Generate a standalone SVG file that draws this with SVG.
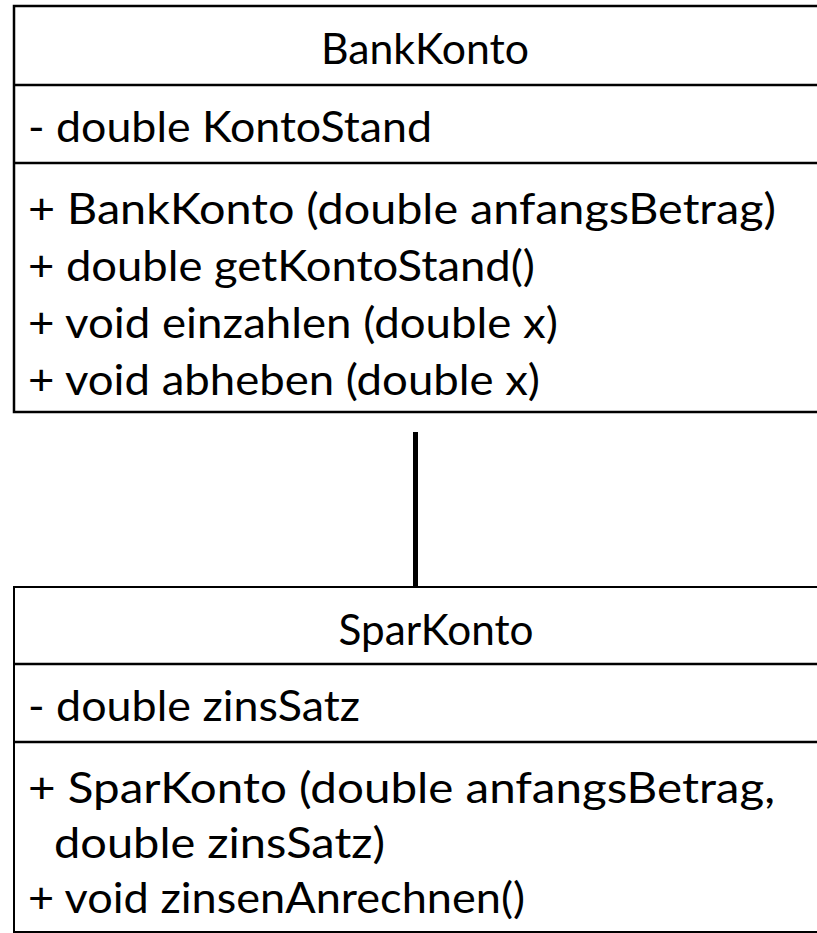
<svg xmlns="http://www.w3.org/2000/svg" width="817" height="933" viewBox="0 0 817 933">
  <style>
    .box { fill: #ffffff; stroke: #000000; stroke-width: 2.5; }
    .div { stroke: #000000; stroke-width: 2.5; }
    .t { font-family: Lato, "Open Sans", "Liberation Sans", sans-serif; font-size: 42px; fill: #000000; }
    .c { text-anchor: middle; }
    .conn { stroke: #000000; stroke-width: 5; fill: none; }
  </style>
  <rect x="0" y="0" width="817" height="933" fill="#ffffff"/>
  <g id="BankKonto">
    <rect class="box" x="14" y="6" width="830" height="406"/>
    <line class="div" x1="14" y1="85" x2="830" y2="85"/>
    <line class="div" x1="14" y1="163" x2="830" y2="163"/>
    <text class="t c" x="425" y="64" textLength="208" lengthAdjust="spacingAndGlyphs">BankKonto</text>
    <text class="t" x="28" y="142" textLength="404" lengthAdjust="spacingAndGlyphs">- double KontoStand</text>
    <text class="t" x="28" y="224" textLength="748" lengthAdjust="spacingAndGlyphs">+ BankKonto (double anfangsBetrag)</text>
    <text class="t" x="28" y="281" textLength="507" lengthAdjust="spacingAndGlyphs">+ double getKontoStand()</text>
    <text class="t" x="28" y="338" textLength="530" lengthAdjust="spacingAndGlyphs">+ void einzahlen (double x)</text>
    <text class="t" x="28" y="395" textLength="512" lengthAdjust="spacingAndGlyphs">+ void abheben (double x)</text>
  </g>
  <g id="SparKonto">
    <rect class="box" x="14" y="587" width="830" height="345" style="stroke-width:2"/>
    <line class="div" x1="14" y1="664" x2="830" y2="664"/>
    <line class="div" x1="14" y1="742" x2="830" y2="742"/>
    <text class="t c" x="436" y="645" textLength="195" lengthAdjust="spacingAndGlyphs">SparKonto</text>
    <text class="t" x="28" y="721" textLength="332" lengthAdjust="spacingAndGlyphs">- double zinsSatz</text>
    <text class="t" x="28" y="803" textLength="747" lengthAdjust="spacingAndGlyphs">+ SparKonto (double anfangsBetrag,</text>
    <text class="t" x="54" y="858" textLength="331" lengthAdjust="spacingAndGlyphs">double zinsSatz)</text>
    <text class="t" x="28" y="913" textLength="497" lengthAdjust="spacingAndGlyphs">+ void zinsenAnrechnen()</text>
  </g>
  <g id="connectors">
    <line class="conn" x1="415.5" y1="432" x2="415.5" y2="587"/>
  </g>
</svg>
